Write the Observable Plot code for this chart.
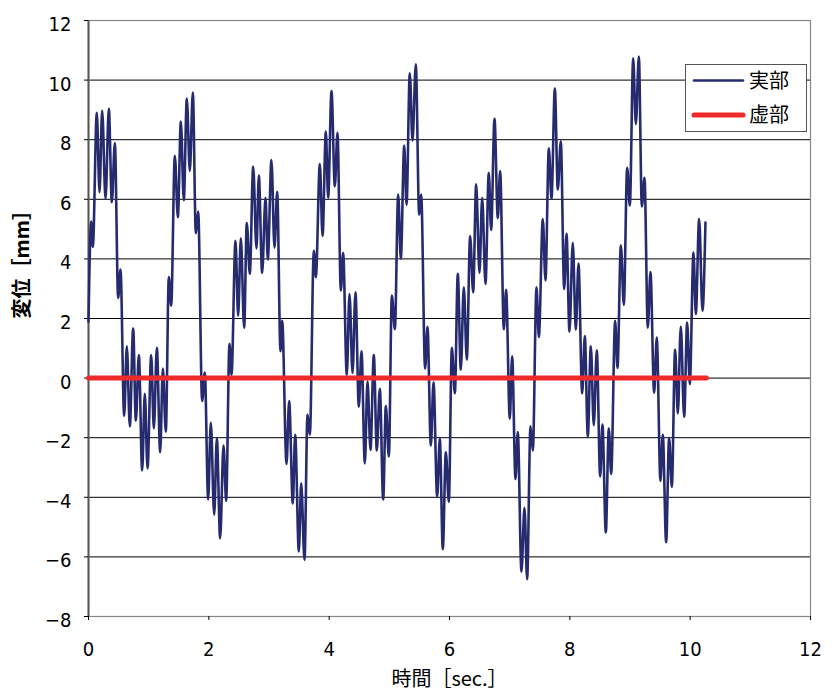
<!DOCTYPE html>
<html><head><meta charset="utf-8">
<script src="https://cdn.jsdelivr.net/npm/d3@7"></script>
<script src="https://cdn.jsdelivr.net/npm/@observablehq/plot@0.6"></script>
<style>
body{margin:0;background:#fff;}
#wrap{position:relative;width:838px;height:695px;}
#legend{position:absolute;left:685px;top:64px;width:122px;height:68px;border:1px solid #555;background:#fff;box-sizing:border-box;}
</style></head><body><div id="wrap"><div id="chart"></div><div id="legend"></div></div>
<script>
const realT = [0, 0.044, 0.072, 0.138, 0.183, 0.227, 0.283, 0.338, 0.388, 0.438, 0.493, 0.532, 0.593, 0.637, 0.687, 0.742, 0.787, 0.837, 0.892, 0.936, 0.981, 1.042, 1.086, 1.136, 1.191, 1.236, 1.285,
1.335, 1.374, 1.435, 1.485, 1.535, 1.584, 1.634, 1.684, 1.734, 1.784, 1.823, 1.889, 1.933, 1.989, 2.033, 2.089, 2.133, 2.188, 2.244, 2.288, 2.343, 2.377, 2.443, 2.487, 2.532, 2.587, 2.631,
2.681, 2.737, 2.792, 2.831, 2.886, 2.942, 2.980, 3.041, 3.091, 3.136, 3.191, 3.219, 3.291, 3.335, 3.396, 3.435, 3.496, 3.535, 3.590, 3.640, 3.679, 3.745, 3.779, 3.845, 3.890, 3.945,
3.983, 4.039, 4.094, 4.138, 4.194, 4.232, 4.293, 4.338, 4.388, 4.437, 4.493, 4.537, 4.593, 4.637, 4.687, 4.742, 4.792, 4.842, 4.898, 4.942, 4.992, 5.042, 5.092, 5.147, 5.191, 5.247, 5.286,
5.340, 5.385, 5.440, 5.496, 5.529, 5.595, 5.634, 5.690, 5.734, 5.795, 5.839, 5.889, 5.939, 5.989, 6.039, 6.089, 6.138, 6.188, 6.238, 6.288, 6.343, 6.393, 6.443, 6.498, 6.543, 6.598,
6.653, 6.692, 6.748, 6.803, 6.842, 6.903, 6.941, 7.002, 7.041, 7.097, 7.135, 7.196, 7.246, 7.290, 7.346, 7.385, 7.446, 7.485, 7.551, 7.595, 7.651, 7.695, 7.751, 7.800, 7.850, 7.906, 7.945,
7.994, 8.049, 8.099, 8.144, 8.205, 8.249, 8.299, 8.349, 8.398, 8.448, 8.504, 8.542, 8.598, 8.648, 8.687, 8.753, 8.792, 8.848, 8.897, 8.953, 8.997, 9.053, 9.097, 9.147, 9.197, 9.241,
9.296, 9.340, 9.401, 9.445, 9.506, 9.545, 9.601, 9.650, 9.695, 9.750, 9.795, 9.844, 9.900, 9.950, 9.994, 10.055, 10.094, 10.149, 10.205, 10.254];
const realV = [1.9, 5.25, 4.4, 8.9, 6.24, 8.98, 6.02, 9.04, 5.9, 7.89, 2.69, 3.64, -1.27, 1.07, -1.62, 1.66, -1.43, 0.77, -3.1, -0.53, -3.03, 0.77, -1.69, 1.02, -2.49, 0.32, -1.8,
3.39, 2.43, 7.46, 5.4, 8.61, 5.97, 9.38, 6.95, 9.58, 4.86, 5.59, -0.77, 0.19, -4.07, -1.5, -4.58, -2.03, -5.37, -2.26, -4.12, 1.15, 0.11, 4.61, 2.09, 4.69, 1.69, 5.2,
3.5, 7.1, 4.35, 6.8, 3.53, 6.05, 3.98, 7.32, 4.38, 6.25, 0.9, 1.92, -2.88, -0.77, -4.21, -1.9, -5.82, -3.53, -6.1, -1.22, -1.9, 4.27, 3.39, 7.18, 4.77, 8.27,
6.05, 9.63, 6.44, 8.23, 2.94, 4.2, 0.11, 2.82, 0.17, 2.88, -0.96, 0.9, -2.86, -0.11, -2.41, 0.77, -2.43, -0.36, -4.07, -0.94, -2.63, 2.77, 1.64, 6.16, 4.01, 7.8, 5.82,
10.23, 7.97, 10.53, 5.48, 6.16, 0.32, 1.72, -2.26, -0.14, -3.98, -2.03, -5.74, -2.49, -4.15, 1.02, -0.51, 3.5, 0.28, 3.05, 0.62, 4.77, 2.88, 6.5, 3.53, 6.05, 3.16,
6.89, 4.97, 8.7, 5.37, 6.95, 1.64, 2.96, -1.36, 0.73, -3.39, -1.81, -6.5, -4.35, -6.75, -1.62, -2.43, 3.05, 1.38, 5.34, 3.28, 7.71, 6.01, 9.72, 6.33, 7.95, 2.99, 4.84,
1.56, 4.54, 1.62, 3.84, -0.51, 1.41, -1.95, 1.07, -1.58, 0.93, -3.3, -1.56, -5.18, -1.69, -3.22, 1.92, 0.34, 4.46, 2.46, 7.06, 5.79, 10.73, 8.53, 10.79, 5.76, 6.72,
1.69, 3.56, -0.49, 1.36, -3.45, -1.9, -5.51, -2.01, -3.65, 0.96, -1.19, 1.73, -1.3, 1.86, -0.2, 4.21, 2.15, 5.34, 2.26, 5.22];
const imagT = [0, 10.27];
const imagV = [0, 0];
const seriesNames = ["実部", "虚部"];
const seriesColors = ["#262b6f", "#ee2a2a"];
const xTicks = [0, 2, 4, 6, 8, 10, 12];
const yTicks = [-8, -6, -4, -2, 0, 2, 4, 6, 8, 10, 12];
const xLabel = "時間［sec.］";
const yLabel = "変位［mm］";

const real = realT.map((t, i) => ({t, v: realV[i]}));
const imag = imagT.map((t, i) => ({t, v: imagV[i]}));
const numFont = '"Liberation Sans Narrow","DejaVu Sans Condensed","Liberation Sans",sans-serif';
const cjkFont = '"Noto Sans CJK JP",sans-serif';

const chart = Plot.plot({
  width: 838, height: 695,
  marginLeft: 88, marginRight: 28, marginTop: 20, marginBottom: 79,
  x: {domain: [0, 12], ticks: xTicks},
  y: {domain: [-8, 12], ticks: yTicks},
  style: {fontFamily: numFont, fontSize: "20px", color: "#000", background: "#fff"},
  marks: [
    Plot.ruleY(yTicks.slice(1, -1), {stroke: "#000", strokeWidth: 1}),
    Plot.frame({stroke: "#888", strokeWidth: 1.2}),
    Plot.ruleX([0], {stroke: "#555", strokeWidth: 2}),
    Plot.axisX({ticks: xTicks, tickSize: 4, tickPadding: 21, label: null, fontSize: 20}),
    Plot.axisY({ticks: yTicks, tickSize: 4, text: null, label: null}),
    Plot.axisY({ticks: yTicks, tickSize: 0, tickPadding: 17, dy: 4, label: null, fontSize: 20}),
    Plot.line(real, {x: "t", y: "v", stroke: seriesColors[0], strokeWidth: 2.6, curve: "monotone-x"}),
    Plot.line(imag, {x: "t", y: "v", stroke: seriesColors[1], strokeWidth: 5, strokeLinecap: "round"}),
    Plot.text([xLabel], {frameAnchor: "bottom", dy: 69, fontSize: 20, fontFamily: cjkFont}),
    Plot.text([yLabel], {frameAnchor: "left", dx: -66, rotate: -90, fontSize: 20, fontWeight: "bold", fontFamily: cjkFont})
  ]
});
document.getElementById("chart").appendChild(chart);

// legend
const lg = d3.select("#legend").append("svg").attr("width", 120).attr("height", 66);
seriesNames.forEach((name, i) => {
  const cy = i === 0 ? 15.5 : 50;
  lg.append("line").attr("x1", 8).attr("x2", 57).attr("y1", cy).attr("y2", cy)
    .attr("stroke", seriesColors[i]).attr("stroke-width", i === 0 ? 2.6 : 5).attr("stroke-linecap", "round");
  lg.append("text").attr("x", 63).attr("y", cy).attr("dy", "0.36em")
    .attr("font-family", cjkFont).attr("font-size", 20).attr("fill", "#000").text(name);
});
</script>
</body></html>
